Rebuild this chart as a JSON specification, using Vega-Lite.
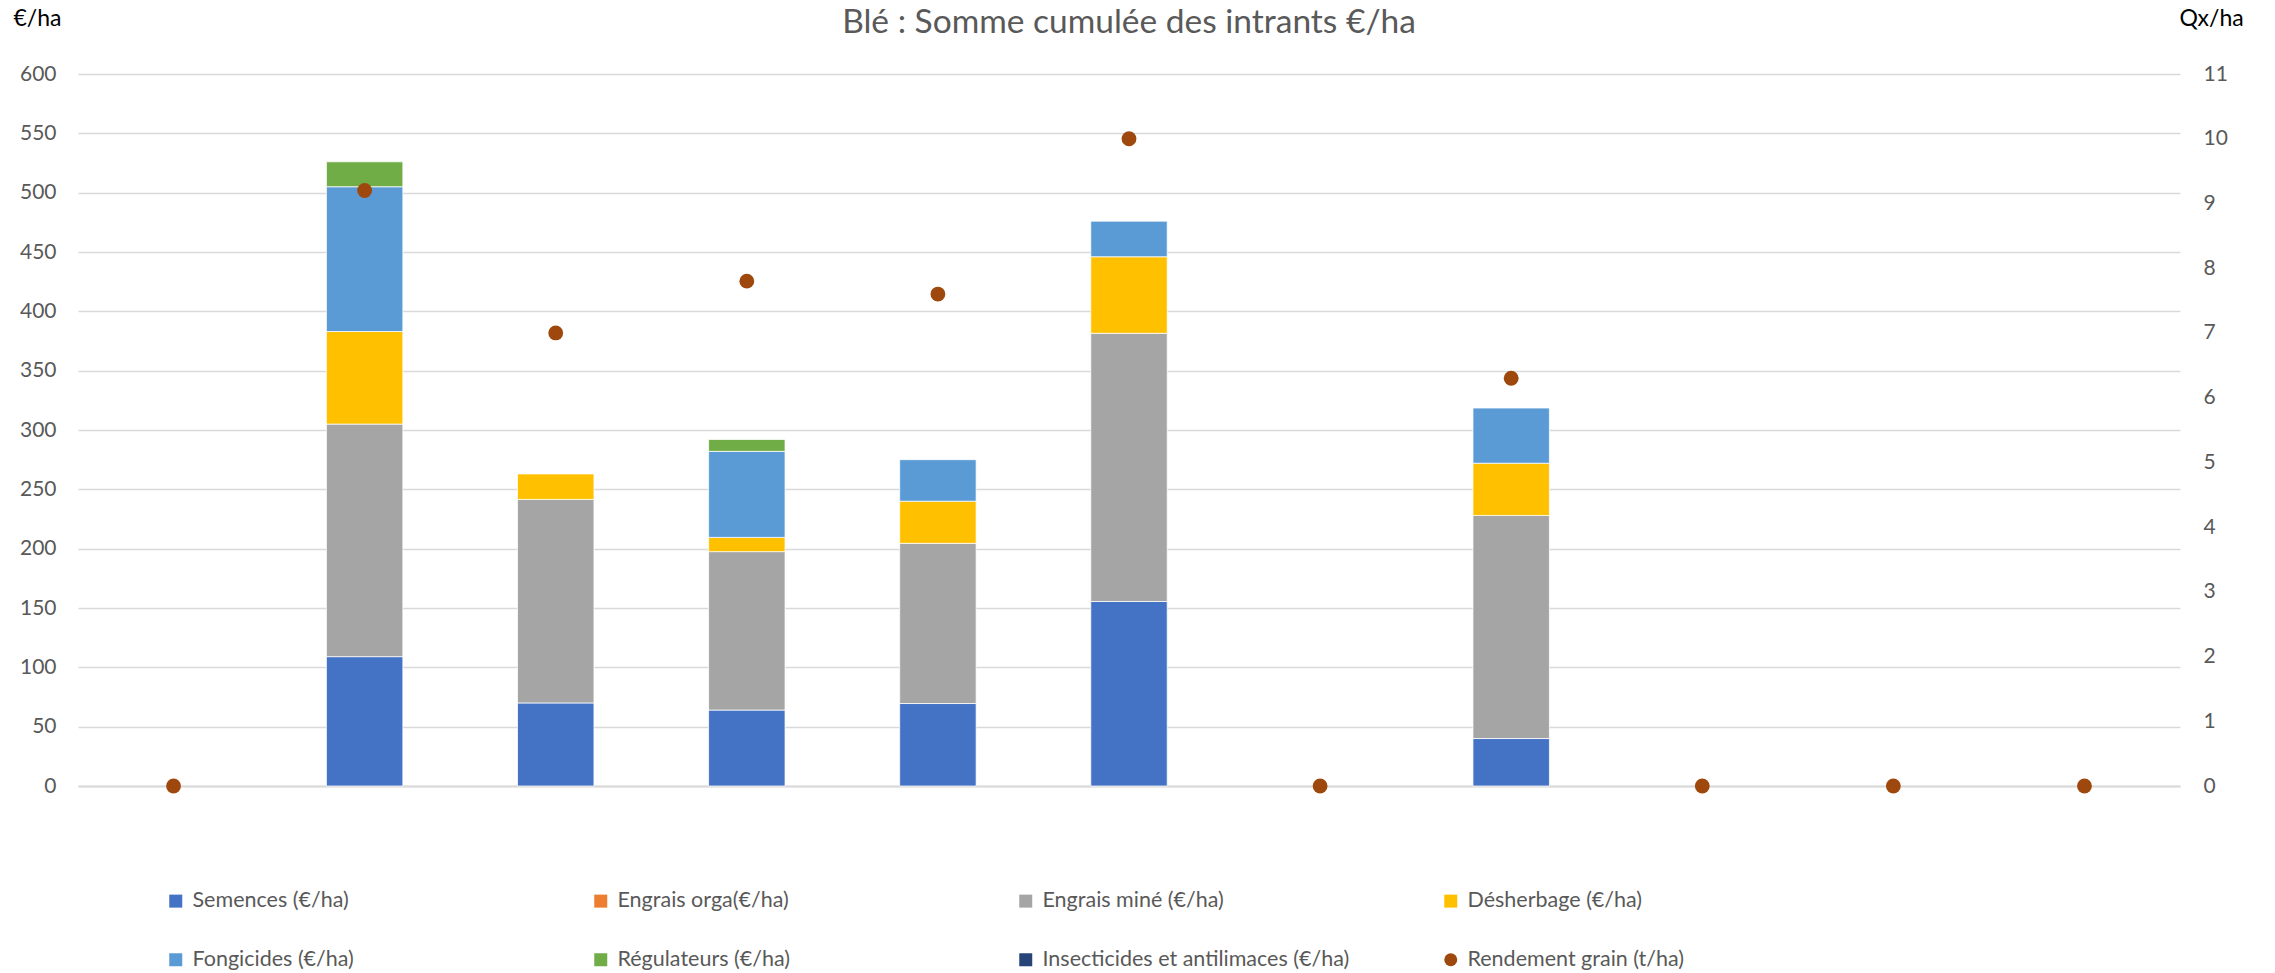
{
  "$schema": "https://vega.github.io/schema/vega-lite/v6.json",
  "width": 2102,
  "height": 712,
  "autosize": {"type": "none"},
  "padding": {"left": 78, "top": 74, "right": 95, "bottom": 187},
  "background": "#ffffff",
  "config": {
    "font": "Lato",
    "view": {"stroke": null},
    "axis": {"labelFont": "Lato", "titleFont": "Lato"},
    "legend": {"labelFont": "Lato"}
  },
  "title": {
    "text": "Blé : Somme cumulée des intrants €/ha",
    "font": "Lato",
    "fontSize": 33.5,
    "fontWeight": "normal",
    "color": "#595959",
    "anchor": "middle",
    "frame": "group",
    "baseline": "alphabetic",
    "offset": -59
  },
  "datasets": {
    "intrants": [
      {"cat": "P2", "serie": "Semences (€/ha)", "value": 109},
      {"cat": "P2", "serie": "Engrais miné (€/ha)", "value": 196},
      {"cat": "P2", "serie": "Désherbage (€/ha)", "value": 78},
      {"cat": "P2", "serie": "Fongicides (€/ha)", "value": 122},
      {"cat": "P2", "serie": "Régulateurs (€/ha)", "value": 21},
      {"cat": "P3", "serie": "Semences (€/ha)", "value": 70},
      {"cat": "P3", "serie": "Engrais miné (€/ha)", "value": 171.5},
      {"cat": "P3", "serie": "Désherbage (€/ha)", "value": 21.5},
      {"cat": "P4", "serie": "Semences (€/ha)", "value": 64},
      {"cat": "P4", "serie": "Engrais miné (€/ha)", "value": 133.5},
      {"cat": "P4", "serie": "Désherbage (€/ha)", "value": 12},
      {"cat": "P4", "serie": "Fongicides (€/ha)", "value": 72.5},
      {"cat": "P4", "serie": "Régulateurs (€/ha)", "value": 10},
      {"cat": "P5", "serie": "Semences (€/ha)", "value": 69.5},
      {"cat": "P5", "serie": "Engrais miné (€/ha)", "value": 135},
      {"cat": "P5", "serie": "Désherbage (€/ha)", "value": 35.5},
      {"cat": "P5", "serie": "Fongicides (€/ha)", "value": 35},
      {"cat": "P6", "serie": "Semences (€/ha)", "value": 155.5},
      {"cat": "P6", "serie": "Engrais miné (€/ha)", "value": 226},
      {"cat": "P6", "serie": "Désherbage (€/ha)", "value": 64.5},
      {"cat": "P6", "serie": "Fongicides (€/ha)", "value": 30},
      {"cat": "P8", "serie": "Semences (€/ha)", "value": 40},
      {"cat": "P8", "serie": "Engrais miné (€/ha)", "value": 188},
      {"cat": "P8", "serie": "Désherbage (€/ha)", "value": 44},
      {"cat": "P8", "serie": "Fongicides (€/ha)", "value": 46.5}
    ],
    "rendement": [
      {"cat": "P1", "serie": "Rendement grain (t/ha)", "rendement": 0},
      {"cat": "P2", "serie": "Rendement grain (t/ha)", "rendement": 9.2},
      {"cat": "P3", "serie": "Rendement grain (t/ha)", "rendement": 7.0},
      {"cat": "P4", "serie": "Rendement grain (t/ha)", "rendement": 7.8},
      {"cat": "P5", "serie": "Rendement grain (t/ha)", "rendement": 7.6},
      {"cat": "P6", "serie": "Rendement grain (t/ha)", "rendement": 10.0},
      {"cat": "P7", "serie": "Rendement grain (t/ha)", "rendement": 0},
      {"cat": "P8", "serie": "Rendement grain (t/ha)", "rendement": 6.3},
      {"cat": "P9", "serie": "Rendement grain (t/ha)", "rendement": 0},
      {"cat": "P10", "serie": "Rendement grain (t/ha)", "rendement": 0},
      {"cat": "P11", "serie": "Rendement grain (t/ha)", "rendement": 0}
    ]
  },
  "layer": [
    {
      "data": {"name": "intrants"},
      "transform": [
        {"calculate": "indexof(['Semences (€/ha)','Engrais orga(€/ha)','Engrais miné (€/ha)','Désherbage (€/ha)','Fongicides (€/ha)','Régulateurs (€/ha)','Insecticides et antilimaces (€/ha)'], datum.serie)", "as": "rang"}
      ],
      "mark": {"type": "bar", "stroke": "#ffffff", "strokeWidth": 0.75},
      "encoding": {
        "x": {
          "field": "cat",
          "type": "nominal",
          "sort": null,
          "scale": {"domain": ["P1", "P2", "P3", "P4", "P5", "P6", "P7", "P8", "P9", "P10", "P11"], "paddingInner": 0.6, "paddingOuter": 0.3},
          "axis": {"labels": false, "ticks": false, "title": null, "grid": false, "domainColor": "#d9d9d9", "domainWidth": 2}
        },
        "y": {
          "field": "value",
          "type": "quantitative",
          "stack": "zero",
          "scale": {"domain": [0, 600], "nice": false},
          "axis": {
            "values": [0, 50, 100, 150, 200, 250, 300, 350, 400, 450, 500, 550, 600],
            "grid": true,
            "gridColor": "#d9d9d9",
            "gridWidth": 1.5,
            "domain": false,
            "ticks": false,
            "labelPadding": 22,
            "labelFontSize": 21,
            "labelColor": "#595959",
            "title": "€/ha",
            "titleAngle": 0,
            "titleX": -65,
            "titleY": -56,
            "titleAlign": "left",
            "titleBaseline": "middle",
            "titleFontSize": 23,
            "titleFontWeight": "normal",
            "titleColor": "#000000"
          }
        },
        "color": {
          "field": "serie",
          "type": "nominal",
          "scale": {
            "domain": ["Semences (€/ha)", "Engrais orga(€/ha)", "Engrais miné (€/ha)", "Désherbage (€/ha)", "Fongicides (€/ha)", "Régulateurs (€/ha)", "Insecticides et antilimaces (€/ha)", "Rendement grain (t/ha)"],
            "range": ["#4472C4", "#ED7D31", "#A5A5A5", "#FFC000", "#5B9BD5", "#70AD47", "#264478", "#9E480E"]
          },
          "legend": {
            "title": null,
            "orient": "none",
            "legendX": 87,
            "legendY": 816,
            "direction": "horizontal",
            "columns": 4,
            "gridAlign": "all",
            "columnPadding": 90,
            "rowPadding": 36,
            "padding": 0,
            "symbolSize": 169,
            "symbolStrokeWidth": 0,
            "symbolOpacity": 1,
            "labelFontSize": 21.5,
            "labelColor": "#595959",
            "labelOffset": 6,
            "labelLimit": 500
          }
        },
        "order": {"field": "rang", "type": "quantitative"}
      }
    },
    {
      "data": {"name": "rendement"},
      "mark": {"type": "point", "filled": true, "size": 220, "opacity": 1, "strokeWidth": 0},
      "encoding": {
        "x": {"field": "cat", "type": "nominal", "sort": null},
        "y": {
          "field": "rendement",
          "type": "quantitative",
          "scale": {"domain": [0, 11], "nice": false},
          "axis": {
            "orient": "right",
            "values": [0, 1, 2, 3, 4, 5, 6, 7, 8, 9, 10, 11],
            "grid": false,
            "domain": false,
            "ticks": false,
            "labelPadding": 23,
            "labelFontSize": 21,
            "labelColor": "#595959",
            "title": "Qx/ha",
            "titleAngle": 0,
            "titleX": -1,
            "titleY": -56,
            "titleAlign": "left",
            "titleBaseline": "middle",
            "titleFontSize": 23,
            "titleFontWeight": "normal",
            "titleColor": "#000000"
          }
        },
        "color": {"field": "serie", "type": "nominal"},
        "shape": {
          "field": "serie",
          "type": "nominal",
          "scale": {
            "domain": ["Semences (€/ha)", "Engrais orga(€/ha)", "Engrais miné (€/ha)", "Désherbage (€/ha)", "Fongicides (€/ha)", "Régulateurs (€/ha)", "Insecticides et antilimaces (€/ha)", "Rendement grain (t/ha)"],
            "range": ["square", "square", "square", "square", "square", "square", "square", "circle"]
          },
          "legend": {
            "title": null,
            "orient": "none",
            "legendX": 87,
            "legendY": 816,
            "direction": "horizontal",
            "columns": 4,
            "gridAlign": "all",
            "columnPadding": 90,
            "rowPadding": 36,
            "padding": 0,
            "symbolSize": 169,
            "symbolStrokeWidth": 0,
            "symbolOpacity": 1,
            "labelFontSize": 21.5,
            "labelColor": "#595959",
            "labelOffset": 6,
            "labelLimit": 500
          }
        }
      }
    }
  ],
  "resolve": {"scale": {"y": "independent"}}
}
